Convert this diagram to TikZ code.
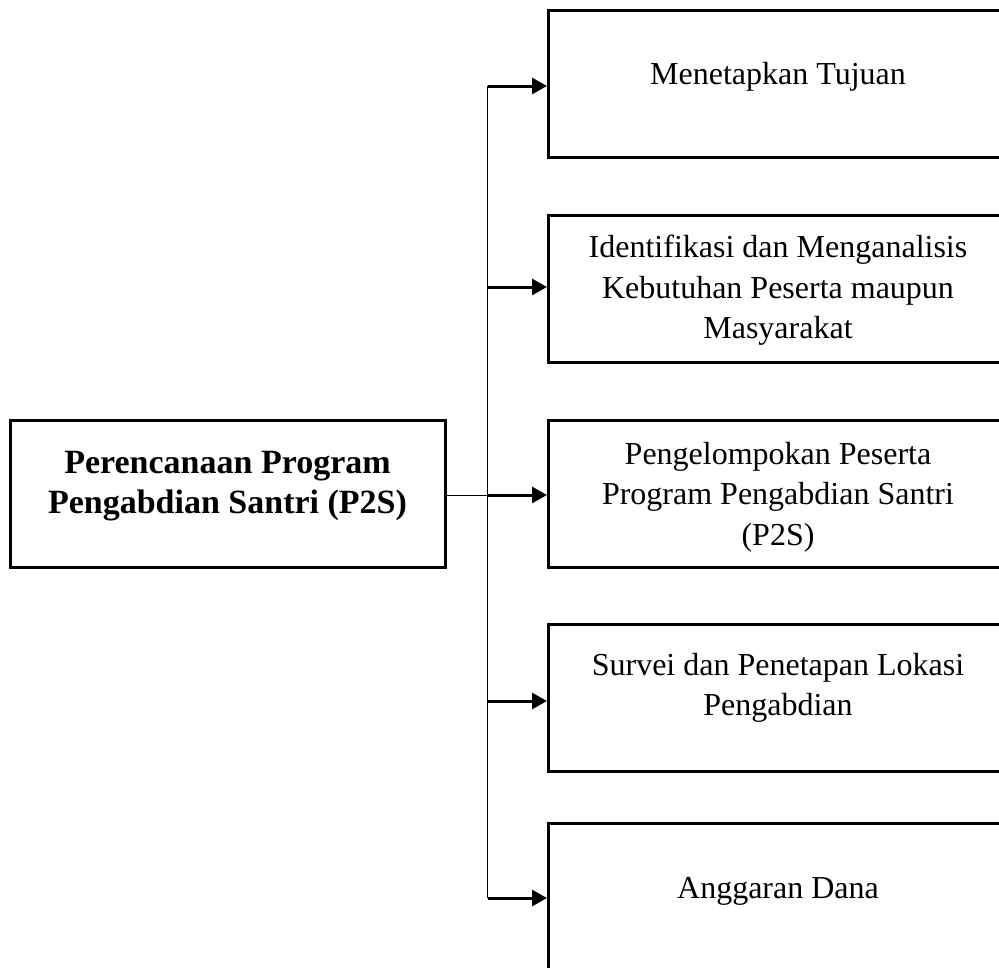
\documentclass[tikz,border=0pt]{standalone}
\usepackage{fontspec}
\setmainfont{Liberation Serif}
\usetikzlibrary{arrows.meta}
\begin{document}
\begin{tikzpicture}[x=1pt,y=-1pt,
  frame/.style={draw=black,line width=3pt,minimum width=462pt,minimum height=147pt,anchor=west,inner sep=0pt},
  mainbox/.style={draw=black,line width=3pt,minimum width=435pt,minimum height=147pt,inner sep=0pt},
  main text/.style={align=center,font=\fontsize{34}{40}\selectfont\bfseries},
  label text/.style={align=center,font=\fontsize{32}{40.5}\selectfont},
  arr/.style={line width=3pt,-{Triangle[length=15pt,width=16pt]}},
  spine line/.style={line width=1.7pt},
  thin link/.style={line width=1pt}]
\useasboundingbox (0,0) rectangle (999,967);

% planning stage on the left
\node[mainbox] (m) at (227.5,493.5) {};
\node[main text] (mt) at (227.5,486.5) {Perencanaan Program\\Pengabdian Santri (P2S)};

% the five activity boxes (they run past the right edge)
\node[frame] (b1) at (547,83.5) {};
\node[frame] (b2) at (547,288.5) {};
\node[frame] (b3) at (547,493.5) {};
\node[frame] (b4) at (547,697.5) {};
\node[frame] (b5) at (547,896.5) {};

\node[label text] (t1) at (778,77) {Menetapkan Tujuan};
\node[label text] (t2) at (778,290.5) {Identifikasi dan Menganalisis\\Kebutuhan Peserta maupun\\Masyarakat};
\node[label text] (t3) at (778,497) {Pengelompokan Peserta\\Program Pengabdian Santri\\(P2S)};
\node[label text] (t4) at (778,688) {Survei dan Penetapan Lokasi\\Pengabdian};
\node[label text] (t5) at (778,891) {Anggaran Dana};

% vertical distribution line
\coordinate (top) at (487.5,86);
\coordinate (bot) at (487.5,898);
\draw[spine line] (top) -- (bot);

% link from the planning box to the line
\draw[thin link] ([yshift=-1.5pt]m.east) -- ([yshift=-1.5pt]m.east -| top);

% arrows into each box
\foreach \b/\d in {b1/2.5,b2/-1.5,b3/1.5,b4/3.5,b5/1.5}
  \draw[arr] ([yshift=-\d pt]\b.west -| top) -- ([yshift=-\d pt]\b.west);
\end{tikzpicture}
\end{document}
